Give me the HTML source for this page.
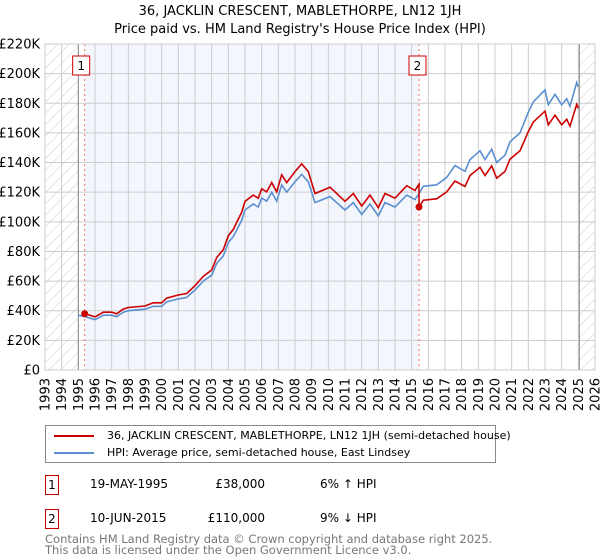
<!DOCTYPE html>
<html><head><meta charset="utf-8"><style>
body{margin:0;background:#fff;font-family:"DejaVu Sans","Liberation Sans",sans-serif;}
#wrap{position:relative;width:600px;height:560px;overflow:hidden;}
.t{position:absolute;font-size:13px;color:#000;white-space:nowrap;}
</style></head><body>
<div id="wrap">
<div class="t" style="left:0;width:600px;text-align:center;top:3px;line-height:18px;">36, JACKLIN CRESCENT, MABLETHORPE, LN12 1JH<br>Price paid vs. HM Land Registry's House Price Index (HPI)</div>
<svg id="chart" width="600" height="420" style="position:absolute;left:0;top:0;">
<defs><pattern id="hatch" patternUnits="userSpaceOnUse" width="8" height="8" patternTransform="rotate(45)"><line x1="0" y1="0" x2="0" y2="8" stroke="#ccc" stroke-width="1"/></pattern></defs>
</svg>
<div style="position:absolute;left:45px;top:425px;width:449px;height:36px;border:1px solid #888;">
<div style="position:absolute;left:8px;top:3px;font-size:11px;white-space:nowrap;"><span style="display:inline-block;width:40px;height:2px;background:#cc0000;vertical-align:middle;margin-right:13px;"></span>36, JACKLIN CRESCENT, MABLETHORPE, LN12 1JH (semi-detached house)</div>
<div style="position:absolute;left:8px;top:20px;font-size:11px;white-space:nowrap;"><span style="display:inline-block;width:40px;height:2px;background:#5b8fd0;vertical-align:middle;margin-right:13px;"></span>HPI: Average price, semi-detached house, East Lindsey</div>
</div>
<div>
<div class="t" style="left:45px;top:475px;width:12px;height:18px;border:1px solid #cc0000;text-align:center;font-size:12px;line-height:18px;">1</div>
<div class="t" style="left:90px;top:477px;font-size:12px;">19-MAY-1995</div>
<div class="t" style="left:200px;width:65px;text-align:right;top:477px;font-size:12px;">£38,000</div>
<div class="t" style="left:320px;top:477px;font-size:12px;">6% ↑ HPI</div>
</div>
<div>
<div class="t" style="left:45px;top:509px;width:12px;height:18px;border:1px solid #cc0000;text-align:center;font-size:12px;line-height:18px;">2</div>
<div class="t" style="left:90px;top:511px;font-size:12px;">10-JUN-2015</div>
<div class="t" style="left:200px;width:65px;text-align:right;top:511px;font-size:12px;">£110,000</div>
<div class="t" style="left:320px;top:511px;font-size:12px;">9% ↓ HPI</div>
</div>
<div class="t" style="left:45px;top:534px;font-size:11.5px;line-height:11px;color:#777;">Contains HM Land Registry data © Crown copyright and database right 2025.<br>This data is licensed under the Open Government Licence v3.0.</div>
</div>
<script>
const yearTicks=[1993,1994,1995,1996,1997,1998,1999,2000,2001,2002,2003,2004,2005,2006,2007,2008,2009,2010,2011,2012,2013,2014,2015,2016,2017,2018,2019,2020,2021,2022,2023,2024,2025,2026];
const valueTicks=[0,20,40,60,80,100,120,140,160,180,200,220];
const valueLabels=["£0","£20K","£40K","£60K","£80K","£100K","£120K","£140K","£160K","£180K","£200K","£220K"];
const hpiYears=[1995.0,1995.4,1996.0,1996.5,1997.0,1997.3,1997.7,1998.0,1999.0,1999.5,2000.0,2000.3,2001.0,2001.5,2002.0,2002.5,2003.0,2003.3,2003.7,2004.0,2004.3,2004.8,2005.0,2005.5,2005.8,2006.0,2006.3,2006.6,2006.9,2007.2,2007.5,2008.0,2008.4,2008.8,2009.2,2010.1,2011.0,2011.5,2012.0,2012.5,2013.0,2013.4,2014.0,2014.7,2015.2,2015.44,2015.7,2016.5,2017.1,2017.6,2018.2,2018.5,2019.1,2019.4,2019.8,2020.1,2020.6,2020.9,2021.5,2022.0,2022.3,2023.0,2023.2,2023.6,2024.0,2024.3,2024.5,2024.9,2025.0];
const hpiValues=[37,36,34,37,37,36,39,40,41,43,43,46,48,49,54,60,64,72,77,86,90,101,108,112,110,116,114,120,114,125,120,127,132,127,113,117,108,113,105,112,104,113,110,118,115,119,124,125,130,138,134,142,148,142,149,140,145,154,160,174,181,189,179,186,179,183,178,194,191];
const saleYears=[1995.38,2015.44];
const salePrices=[38,110];
const saleLabels=["1","2"];

const svg=document.getElementById('chart');
const NS='http://www.w3.org/2000/svg';
const L=45,R=595,T=44,B=370,Y0=1993,Y1=2026,VMAX=220;
const xs=y=>L+(y-Y0)/(Y1-Y0)*(R-L);
const ys=v=>B-v/VMAX*(B-T);
function mk(tag,attrs){const e=document.createElementNS(NS,tag);for(const k in attrs)e.setAttribute(k,attrs[k]);svg.appendChild(e);return e;}
function hpiAt(t){for(let i=0;i<hpiYears.length-1;i++){if(t>=hpiYears[i]&&t<=hpiYears[i+1]){const f=(t-hpiYears[i])/(hpiYears[i+1]-hpiYears[i]);return hpiValues[i]+f*(hpiValues[i+1]-hpiValues[i]);}}return hpiValues[hpiValues.length-1];}

let e;
e=mk('rect',{x:L,y:T,width:R-L,height:B-T,fill:'#fff'});


e=mk('rect',{x:xs(saleYears[0]),y:T,width:xs(saleYears[1])-xs(saleYears[0]),height:B-T,fill:'#f3f6fd'});


e=mk('rect',{x:L,y:T,width:xs(1995)-L,height:B-T,fill:'url(#hatch)'});


e=mk('rect',{x:xs(2025.06),y:T,width:R-xs(2025.06),height:B-T,fill:'url(#hatch)'});


yearTicks.forEach(y=>{
  e=mk('line',{x1:xs(y),x2:xs(y),y1:T,y2:B,stroke:'#ccc','stroke-width':1});
  
  
  e=mk('text',{x:0,y:0,'font-size':13,'font-family':'DejaVu Sans, Liberation Sans, sans-serif','text-anchor':'end',transform:`translate(${xs(y)+4.5},${B+8}) rotate(-90)`});
  e.textContent=y;
  
  
});
valueTicks.forEach((v,i)=>{
  e=mk('line',{x1:L,x2:R,y1:ys(v),y2:ys(v),stroke:'#ccc','stroke-width':1});
  
  
  e=mk('text',{x:L-5,y:ys(v)+4.5,'font-size':13,'font-family':'DejaVu Sans, Liberation Sans, sans-serif','text-anchor':'end'});
  e.textContent=valueLabels[i];
  
  
});
e=mk('line',{x1:xs(1995),x2:xs(1995),y1:T,y2:B,stroke:'#888','stroke-width':1});


e=mk('line',{x1:xs(2025.06),x2:xs(2025.06),y1:T,y2:B,stroke:'#888','stroke-width':1});


saleYears.forEach((s,i)=>{
  e=mk('line',{x1:xs(s),x2:xs(s),y1:T,y2:B,stroke:'#f07070','stroke-width':1,'stroke-dasharray':'2,3'});
  
  
  const bx=i==0?xs(s)-12:xs(s)-10;
  e=mk('rect',{x:bx,y:56,width:17,height:19,fill:'#fff',stroke:'#cc0000','stroke-width':1});
  
  
  e=mk('text',{x:bx+8.5,y:70,'font-size':12,'font-family':'DejaVu Sans, sans-serif','text-anchor':'middle'});
  e.textContent=saleLabels[i];
  
  
});
let hp='';hpiYears.forEach((y,i)=>{hp+=(i?'L':'M')+xs(y).toFixed(1)+','+ys(hpiValues[i]).toFixed(1);});
e=mk('path',{d:hp,fill:'none',stroke:'#5b8fd0','stroke-width':1.6});


let rp='M'+xs(saleYears[0]).toFixed(1)+','+ys(salePrices[0]).toFixed(1);
let jumped=false;
hpiYears.forEach((y,i)=>{
  if(y<=saleYears[0])return;
  const k=y<saleYears[1]?0:1;
  if(k==1&&!jumped){
    const pre=hpiAt(saleYears[1])*salePrices[0]/hpiAt(saleYears[0]);
    rp+='L'+xs(saleYears[1]).toFixed(1)+','+ys(pre).toFixed(1)+'L'+xs(saleYears[1]).toFixed(1)+','+ys(salePrices[1]).toFixed(1);
    jumped=true;
  }
  const v=hpiValues[i]*salePrices[k]/hpiAt(saleYears[k]);
  rp+='L'+xs(y).toFixed(1)+','+ys(v).toFixed(1);
});
e=mk('path',{d:rp,fill:'none',stroke:'#cc0000','stroke-width':1.6});


saleYears.forEach((s,i)=>{
  e=mk('circle',{cx:xs(s),cy:ys(salePrices[i]),r:3.5,fill:'#cc0000'});
  
  
});
e=mk('rect',{x:L,y:T,width:R-L,height:B-T,fill:'none',stroke:'#ccc','stroke-width':1});


</script>
</body></html>
